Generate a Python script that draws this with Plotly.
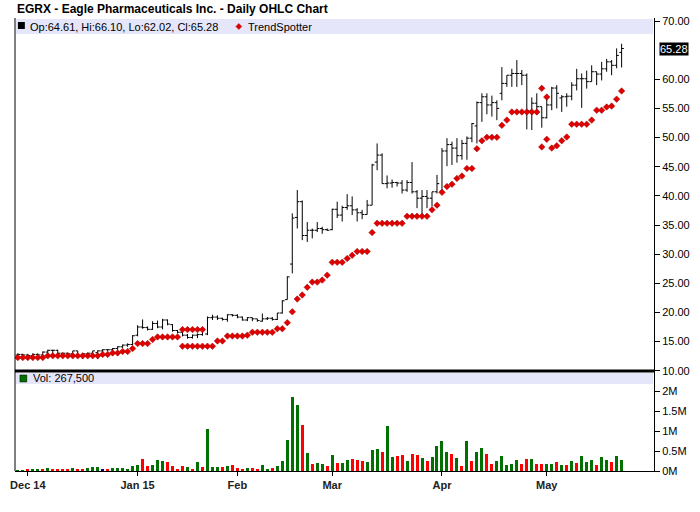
import pandas as pd
import plotly.graph_objects as go

# trading days on the chart (NYSE calendar, 26 Nov 2014 - 22 May 2015)
holidays = ["2014-11-27", "2014-12-25", "2015-01-01", "2015-01-19", "2015-02-16", "2015-04-03"]
days = [d.strftime("%Y-%m-%d") for d in pd.bdate_range("2014-11-26", "2015-05-22")]
days = [d for d in days if d not in holidays]

opens = [
    12.7, 12.8, 12.7, 12.6, 12.8, 12.7, 13.2, 13.5, 13.5, 13.0,
    13.0, 12.9, 13.4, 12.6, 12.9, 13.0, 13.1, 13.4, 13.6, 13.6,
    13.8, 14.1, 14.4, 14.5, 16.1, 17.5, 17.4, 17.1, 18.1, 17.5,
    18.7, 17.9, 16.9, 16.6, 16.1, 15.7, 16.1, 16.2, 16.3, 19.1,
    19.2, 19.0, 18.8, 19.6, 19.5, 19.2, 18.7, 19.1, 18.9, 18.5,
    18.9, 19.0, 18.8, 19.9, 22.2, 28.3, 36.3, 39.0, 33.2, 34.1,
    34.1, 34.4, 34.2, 34.2, 37.7, 36.7, 38.0, 38.3, 37.6, 37.1,
    36.8, 38.4, 45.8, 47.0, 42.1, 42.2, 42.3, 42.2, 41.0, 42.3,
    40.7, 39.6, 39.9, 39.6, 40.7, 40.8, 47.7, 48.8, 48.2, 46.9,
    49.0, 49.9, 52.0, 56.0, 57.0, 55.6, 56.0, 57.6, 59.3, 60.7,
    61.0, 61.0, 60.7, 54.6, 55.9, 55.3, 53.4, 55.6, 58.5, 56.8,
    57.0, 57.1, 59.0, 60.1, 60.1, 59.6, 61.3, 60.9, 61.8, 63.0,
    62.4, 64.61]
highs = [
    13.0, 12.9, 12.9, 13.0, 13.0, 13.3, 13.6, 13.6, 13.6, 13.1,
    13.1, 13.4, 13.4, 13.0, 13.1, 13.4, 13.5, 13.7, 13.7, 13.9,
    14.2, 14.5, 14.7, 16.1, 17.8, 18.8, 17.6, 18.5, 18.6, 18.9,
    18.8, 18.0, 17.0, 16.7, 16.3, 16.2, 16.4, 17.1, 19.3, 19.6,
    19.5, 19.1, 19.7, 19.7, 19.7, 19.3, 19.2, 19.1, 18.9, 19.8,
    19.2, 19.2, 19.9, 22.1, 26.2, 37.0, 41.0, 39.2, 35.5, 34.4,
    35.5, 34.7, 34.4, 37.8, 39.0, 38.3, 40.3, 39.9, 37.9, 37.6,
    39.3, 45.5, 49.0, 47.3, 43.5, 42.8, 42.4, 42.7, 42.7, 45.8,
    41.0, 41.0, 41.0, 40.7, 43.6, 48.2, 49.9, 49.3, 49.9, 49.6,
    50.2, 52.5, 56.2, 57.6, 57.6, 57.2, 56.4, 62.1, 60.7, 61.8,
    63.3, 61.6, 61.0, 56.9, 57.6, 55.3, 56.7, 58.7, 59.0, 57.3,
    57.6, 59.5, 61.8, 61.0, 61.5, 62.4, 61.3, 63.0, 63.5, 63.3,
    65.3, 66.10]
lows = [
    12.5, 12.5, 12.5, 12.5, 12.6, 12.6, 12.8, 12.9, 12.9, 12.8,
    12.7, 12.7, 12.4, 12.0, 12.7, 12.8, 12.0, 13.2, 13.3, 13.4,
    13.6, 13.9, 14.1, 14.4, 15.9, 17.2, 16.9, 17.0, 17.3, 17.1,
    17.8, 16.7, 16.4, 15.9, 15.5, 15.5, 15.6, 16.0, 16.1, 18.7,
    18.7, 18.6, 18.4, 19.3, 19.0, 18.6, 18.5, 18.5, 18.4, 18.4,
    18.7, 18.6, 18.7, 19.8, 22.2, 26.7, 34.4, 32.4, 32.1, 32.7,
    33.8, 33.5, 34.0, 34.1, 36.2, 35.6, 37.6, 36.7, 35.6, 36.0,
    36.8, 38.4, 44.4, 42.1, 41.3, 41.4, 41.6, 40.4, 40.7, 40.4,
    37.9, 36.4, 37.9, 38.2, 40.4, 40.6, 45.1, 45.3, 45.7, 46.2,
    46.2, 49.2, 49.0, 52.7, 54.0, 53.6, 53.0, 56.4, 58.7, 58.7,
    58.7, 59.0, 51.4, 51.3, 53.9, 51.7, 53.3, 54.7, 55.0, 54.4,
    55.3, 56.4, 58.1, 55.1, 58.4, 59.6, 59.0, 59.8, 61.3, 60.7,
    61.9, 62.02]
closes = [
    12.8, 12.7, 12.6, 12.8, 12.7, 13.2, 13.5, 13.5, 13.0, 13.0,
    12.9, 13.4, 12.6, 12.9, 13.0, 13.4, 13.4, 13.6, 13.6, 13.8,
    14.1, 14.4, 14.5, 16.0, 17.5, 17.4, 17.1, 18.1, 17.5, 18.7,
    18.0, 16.9, 16.6, 16.1, 15.7, 16.1, 16.2, 17.0, 19.1, 19.2,
    19.0, 18.8, 19.6, 19.5, 19.2, 18.7, 19.1, 18.9, 18.6, 18.9,
    19.0, 18.8, 19.9, 22.0, 26.1, 36.2, 39.0, 33.2, 34.1, 34.1,
    34.4, 34.2, 34.1, 37.7, 36.7, 38.0, 38.3, 37.6, 37.1, 36.8,
    38.4, 45.3, 47.0, 42.1, 42.2, 42.3, 42.2, 41.0, 42.3, 40.7,
    39.6, 39.9, 39.6, 40.7, 42.1, 47.7, 48.8, 48.2, 46.9, 49.0,
    49.9, 52.4, 56.0, 57.0, 55.6, 56.0, 55.0, 59.3, 60.7, 61.0,
    61.0, 60.7, 54.6, 55.9, 55.3, 53.4, 55.6, 58.5, 57.6, 57.0,
    57.1, 59.0, 60.1, 60.1, 59.6, 61.3, 60.9, 61.8, 63.0, 62.4,
    64.1, 65.28]

trend = [
    12.25, 12.25, 12.25, 12.25, 12.25, 12.25, 12.55, 12.55, 12.55, 12.55,
    12.55, 12.55, 12.55, 12.55, 12.55, 12.55, 12.55, 12.8, 12.8, 13.05,
    13.05, 13.3, 13.3, 13.8, 14.65, 14.65, 14.65, 15.35, 15.8, 15.8,
    15.8, 15.8, 15.8, 14.2, 14.2, 14.2, 14.2, 14.2, 14.2, 14.2,
    15.1, 15.1, 15.95, 15.95, 15.95, 15.95, 16.1, 16.6, 16.6, 16.6,
    16.6, 16.6, 17.2, 17.2, 18.25, 20.1, 22.3, 23.0, 24.3, 25.2,
    25.2, 25.55, 26.4, 28.6, 28.6, 28.6, 29.25, 29.8, 30.45, 30.45,
    30.45, 33.7, 35.3, 35.3, 35.3, 35.3, 35.3, 35.3, 36.5, 36.5,
    36.5, 36.5, 36.5, 37.6, 38.4, 40.6, 41.6, 42.0, 43.0, 43.4,
    44.7, 44.7, 48.1, 49.45, 50.05, 50.05, 50.05, 52.1, 53.0, 54.4,
    54.4, 54.4, 54.4, 54.4, 54.4, 48.4, 49.7, 48.2, 48.6, 49.45,
    50.1, 52.3, 52.3, 52.3, 52.3, 53.0, 54.7, 54.7, 55.25, 55.4,
    56.6, 58.0]
# days where a second TrendSpotter dot is drawn
trend2_days = ["2015-01-15", "2015-01-16", "2015-01-20", "2015-01-21", "2015-01-22",
               "2015-04-30", "2015-05-01"]
trend2 = [17.05, 17.05, 17.05, 17.05, 17.05, 58.45, 56.95]

volume = [
    12000, 12000, 33000, 33000, 33000, 33000, 67000, 33000, 33000, 33000,
    33000, 67000, 33000, 33000, 67000, 92000, 92000, 58000, 33000, 67000,
    67000, 67000, 50000, 117000, 142000, 292000, 117000, 150000, 267000, 242000,
    217000, 117000, 58000, 117000, 92000, 42000, 217000, 92000, 1042000, 92000,
    92000, 92000, 117000, 142000, 67000, 42000, 67000, 67000, 42000, 142000,
    42000, 67000, 117000, 242000, 767000, 1842000, 1642000, 1142000, 442000, 167000,
    192000, 167000, 117000, 392000, 192000, 192000, 267000, 290000, 267000, 242000,
    217000, 517000, 542000, 467000, 1117000, 342000, 367000, 392000, 242000, 417000,
    392000, 317000, 242000, 342000, 617000, 742000, 467000, 417000, 317000, 117000,
    742000, 242000, 467000, 567000, 417000, 167000, 242000, 367000, 142000, 167000,
    267000, 167000, 292000, 292000, 167000, 167000, 167000, 167000, 217000, 142000,
    142000, 242000, 192000, 367000, 217000, 267000, 142000, 342000, 267000, 217000,
    367000, 267500]
# 1 = up day, -1 = down day, 0 = unchanged
vol_dir = [
    1, 1, -1, 1, 1, -1, 1, -1, -1, -1,
    -1, 1, -1, -1, 1, 1, 1, 0, -1, 1,
    1, 1, 1, 1, 1, -1, -1, 1, 1, 1,
    -1, -1, -1, -1, 1, -1, 1, -1, 1, 1,
    1, -1, 1, -1, -1, -1, 1, -1, -1, 1,
    1, -1, 1, 1, 1, 1, 1, -1, 1, -1,
    1, 1, -1, 1, -1, 1, 1, -1, -1, -1,
    1, 1, 1, -1, 1, 1, -1, -1, 1, -1,
    -1, 1, -1, 1, 1, 1, 1, -1, 1, -1,
    1, -1, 1, 1, -1, -1, 1, 1, 1, 1,
    1, -1, -1, 1, -1, -1, 1, 1, -1, 1,
    -1, 1, -1, 1, 1, 1, -1, 1, 1, -1,
    1, 1]

month_days = ["2014-12-01", "2015-01-02", "2015-02-02", "2015-03-02", "2015-04-01", "2015-05-01"]
month_labels = ["Dec 14", "Jan 15", "Feb", "Mar", "Apr", "May"]
price_ticks = [10, 15, 20, 25, 30, 35, 40, 45, 50, 55, 60, 70]
vol_ticks = [0, 500000, 1000000, 1500000, 2000000]
vol_labels = ["0M", "0.5M", "1M", "1.5M", "2M"]

FONT = "Arial, Liberation Sans, sans-serif"
dir_colors = {1: "#007000", -1: "#ff0000", 0: "#000080"}
split = 100 / 453  # price / volume panel boundary

fig = go.Figure()
fig.add_trace(go.Ohlc(x=days, open=opens, high=highs, low=lows, close=closes,
                      increasing_line_color="black", decreasing_line_color="black",
                      line_width=1, tickwidth=0.45, hoverinfo="skip",
                      xaxis="x", yaxis="y"))
marker = dict(symbol="diamond", size=5, color="#e00000", line=dict(width=0.5, color="#a00000"))
fig.add_trace(go.Scatter(x=days, y=trend, mode="markers", marker=marker,
                         xaxis="x", yaxis="y", hoverinfo="skip"))
fig.add_trace(go.Scatter(x=trend2_days, y=trend2, mode="markers", marker=marker,
                         xaxis="x", yaxis="y", hoverinfo="skip"))
fig.add_trace(go.Bar(x=days, y=volume, width=0.6,
                     marker=dict(color=[dir_colors[d] for d in vol_dir], line_width=0),
                     xaxis="x2", yaxis="y2", hoverinfo="skip"))

xrange = [-0.57, 127.49]
fig.update_layout(
    width=700, height=512, autosize=False,
    margin=dict(l=10, r=42, t=18, b=41, pad=0),
    paper_bgcolor="white", plot_bgcolor="white",
    showlegend=False, bargap=0,
    font=dict(family=FONT, size=11, color="black"),
    xaxis=dict(type="category", range=xrange, domain=[0, 1], anchor="y",
               visible=False, rangeslider=dict(visible=False)),
    xaxis2=dict(type="category", range=xrange, domain=[0, 1], anchor="y2", matches="x",
                showgrid=False, showline=True, linecolor="black", linewidth=1,
                ticks="outside", ticklen=4, tickcolor="black",
                tickvals=month_days, ticktext=month_labels,
                tickfont=dict(family=FONT, size=11, color="#222", weight="bold"),
                rangeslider=dict(visible=False)),
    yaxis=dict(domain=[split, 1], range=[9.95, 70.52], anchor="x", side="right",
               showgrid=False, zeroline=False, showline=True, linecolor="black",
               ticks="outside", ticklen=5, tickcolor="black",
               tickvals=price_ticks, tickformat=".2f"),
    yaxis2=dict(domain=[0, split], range=[0, 2500000], anchor="x2", side="right",
                showgrid=False, zeroline=False, showline=True, linecolor="black",
                ticks="outside", ticklen=5, tickcolor="black",
                tickvals=vol_ticks, ticktext=vol_labels),
)

shapes = [
    # legend bands
    dict(type="rect", xref="paper", yref="paper", x0=0.0015, x1=0.9985, y0=0.9647, y1=0.9978,
         fillcolor="#e6e6fa", line_width=0, layer="below"),
    dict(type="rect", xref="paper", yref="paper", x0=0.0015, x1=0.9985, y0=0.1921, y1=0.2163,
         fillcolor="#e6e6fa", line_width=0, layer="below"),
    # legend keys
    dict(type="rect", xref="paper", yref="paper", x0=0.0046, x1=0.0154, y0=0.9757, y1=0.9912,
         fillcolor="black", line_width=0),
    dict(type="path", xref="paper", yref="paper",
         path="M 0.3457 0.9812 L 0.3503 0.9878 L 0.3549 0.9812 L 0.3503 0.9746 Z",
         fillcolor="#e00000", line=dict(width=0.5, color="#a00000")),
    dict(type="rect", xref="paper", yref="paper", x0=0.0077, x1=0.0185, y0=0.1965, y1=0.2119,
         fillcolor="#007000", line=dict(width=0.5, color="black")),
    # frame: left edge and thick panel separator
    dict(type="line", xref="paper", yref="paper", x0=0, x1=0, y0=0, y1=1,
         line=dict(color="black", width=1)),
    dict(type="line", xref="paper", yref="paper", x0=0, x1=1, y0=split, y1=split,
         line=dict(color="black", width=3)),
]
fig.update_layout(shapes=shapes)

fig.add_annotation(text="EGRX - Eagle Pharmaceuticals Inc. - Daily OHLC Chart",
                   xref="paper", yref="paper", x=0, y=1.0199, xanchor="left", yanchor="middle",
                   showarrow=False, font=dict(family=FONT, size=12, color="black", weight="bold"))
fig.add_annotation(text="Op:%.2f, Hi:%.2f, Lo:%.2f, Cl:%.2f" % (opens[-1], highs[-1], lows[-1], closes[-1]),
                   xref="paper", yref="paper", x=0.02, y=0.9812, xanchor="left", yanchor="middle",
                   showarrow=False, font=dict(family=FONT, size=11, color="black"))
fig.add_annotation(text="TrendSpotter", xref="paper", yref="paper", x=0.3611, y=0.9812,
                   xanchor="left", yanchor="middle", showarrow=False,
                   font=dict(family=FONT, size=11, color="black"))
fig.add_annotation(text="Vol: {:,}".format(volume[-1]), xref="paper", yref="paper",
                   x=0.0247, y=0.2042, xanchor="left", yanchor="middle", showarrow=False,
                   font=dict(family=FONT, size=11, color="black"))
# last close badge on the price axis
fig.add_annotation(text="%.2f" % closes[-1], xref="paper", yref="y", x=1, y=closes[-1],
                   xanchor="left", yanchor="middle", xshift=5, showarrow=False,
                   bgcolor="black", borderpad=0, font=dict(family=FONT, size=11, color="white"))

# drop the browser's default body margin so the 700x512 figure fills the window
fig.write_html("out.html", config={"displayModeBar": False},
               post_script="document.body.style.margin = '0';")
